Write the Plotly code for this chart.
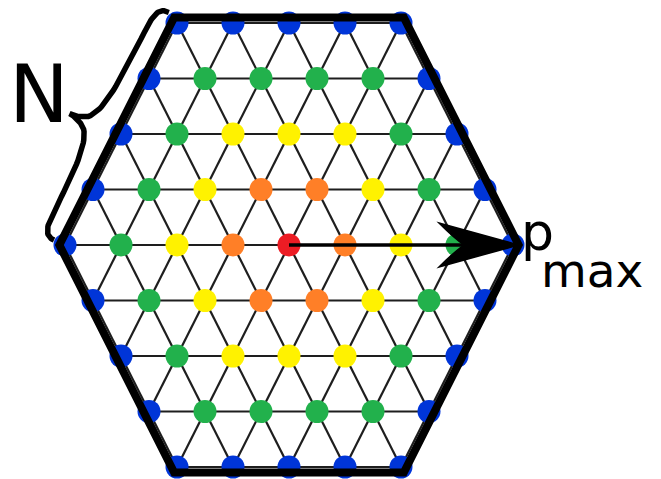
import plotly.graph_objects as go

# ---- data ----
# ring index (hex distance from centre) of every lattice site, row by row (top -> bottom)
row_rings = [
    [4, 4, 4, 4, 4],
    [4, 3, 3, 3, 3, 4],
    [4, 3, 2, 2, 2, 3, 4],
    [4, 3, 2, 1, 1, 2, 3, 4],
    [4, 3, 2, 1, 0, 1, 2, 3, 4],
    [4, 3, 2, 1, 1, 2, 3, 4],
    [4, 3, 2, 2, 2, 3, 4],
    [4, 3, 3, 3, 3, 4],
    [4, 4, 4, 4, 4],
]
ring_colors = ["#ec1c24", "#ff7f27", "#fff200", "#22b14c", "#0035d8"]
hex_side = 4            # N
border_scale = 1.025    # border hexagon slightly larger than the lattice
label_N = "N"
label_p = "p"
label_sub = "max"

# ---- pixel <-> lattice helpers (lattice units on the axes) ----
W, H = 661, 479
OX, OY, SX, SY = 287.0, 243.0, 56.0, 55.5
SHIFT = 6.0   # page offset compensation
def pu(x): return (x - OX) / SX
def pv(y): return (OY - y) / SY

# lattice sites
sites = []
for i, rings in enumerate(row_rings):
    v = hex_side - i
    n = len(rings)
    row = []
    for k, r in enumerate(rings):
        u = -(n - 1) / 2 + k
        row.append((u, v, r))
    sites.append(row)

# bonds
lx, ly = [], []
for i, row in enumerate(sites):
    for a, b in zip(row[:-1], row[1:]):
        lx += [a[0], b[0], None]; ly += [a[1], b[1], None]
    if i + 1 < len(sites):
        for a in row:
            for b in sites[i + 1]:
                if abs(abs(a[0] - b[0]) - 0.5) < 1e-9:
                    lx += [a[0], b[0], None]; ly += [a[1], b[1], None]

fig = go.Figure()
fig.add_trace(go.Scatter(x=lx, y=ly, mode="lines",
                         line=dict(color="#1e1e1e", width=2.2), hoverinfo="skip"))

px_ = [s[0] for row in sites for s in row]
py_ = [s[1] for row in sites for s in row]
pc_ = [ring_colors[s[2]] for row in sites for s in row]
fig.add_trace(go.Scatter(x=px_, y=py_, mode="markers",
                         marker=dict(size=23, color=pc_, line=dict(width=0)),
                         hoverinfo="skip"))

# border hexagon
N = hex_side * border_scale
hx = [-N / 2, N / 2, N, N / 2, -N / 2, -N, -N / 2, N / 2]
hy = [N, N, 0, -N, -N, 0, N, N]
fig.add_trace(go.Scatter(x=hx, y=hy, mode="lines",
                         line=dict(color="black", width=8), hoverinfo="skip"))

# arrow shaft from the centre site towards the right vertex
fig.add_trace(go.Scatter(x=[0, pu(470)], y=[0, 0], mode="lines",
                         line=dict(color="black", width=3.5), hoverinfo="skip"))
def P(x, y): return f"{pu(x):.4f},{pv(y):.4f}"
tipx = OX + N * SX
head = (f"M {P(tipx, 243)} "
        f"L {P(437, 221)} "
        f"Q {P(452, 236)} {P(462, 243)} "
        f"Q {P(452, 250)} {P(437, 265)} Z")
fig.add_shape(type="path", path=head, xref="x", yref="y",
              fillcolor="black", line=dict(color="black", width=1.5), layer="above")

# curly brace along the upper-left edge
A = (OX + hx[0] * SX, OY - hy[0] * SY)      # top-left vertex (px)
B = (OX + hx[5] * SX, OY - hy[5] * SY)      # left vertex (px)
L = ((B[0] - A[0]) ** 2 + (B[1] - A[1]) ** 2) ** 0.5
e = ((B[0] - A[0]) / L, (B[1] - A[1]) / L)
nrm = (e[1], -e[0])
if nrm[0] > 0:
    nrm = (-nrm[0], -nrm[1])

def bez(p0, p1, p2, p3, m=24):
    out = []
    for j in range(m + 1):
        t = j / m
        a = (1 - t) ** 3; b = 3 * (1 - t) ** 2 * t; c = 3 * (1 - t) * t ** 2; d = t ** 3
        out.append((a * p0[0] + b * p1[0] + c * p2[0] + d * p3[0],
                    a * p0[1] + b * p1[1] + c * p2[1] + d * p3[1]))
    return out

sm = 133.0
s0, s1 = -2.0, L - 2.0
loc = []
loc += bez((s0, 7), (s0 - 1, 17), (s0 + 8, 20), (s0 + 24, 20))
loc += bez((s0 + 24, 20), (70, 20), (sm - 18, 19), (sm - 6, 32))[1:]
loc += bez((sm - 6, 32), (sm - 2, 38), (sm, 44), (sm, 50))[1:]
loc += bez((sm, 50), (sm, 44), (sm + 2, 38), (sm + 6, 32))[1:]
loc += bez((sm + 6, 32), (sm + 18, 19), (s1 - 60, 20), (s1 - 24, 20))[1:]
loc += bez((s1 - 24, 20), (s1 - 8, 20), (s1 + 1, 17), (s1, 7))[1:]
bx = [pu(A[0] + s * e[0] + d * nrm[0]) for s, d in loc]
by = [pv(A[1] + s * e[1] + d * nrm[1]) for s, d in loc]
fig.add_trace(go.Scatter(x=bx, y=by, mode="lines",
                         line=dict(color="black", width=5.5), hoverinfo="skip"))

fnt = "DejaVu Sans, Verdana, sans-serif"
fig.add_annotation(x=pu(37), y=pv(92), text=label_N, showarrow=False,
                   xanchor="center", yanchor="middle",
                   font=dict(family=fnt, size=80, color="black"))
fig.add_annotation(x=pu(535), y=pv(230), text=label_p, showarrow=False,
                   xanchor="center", yanchor="middle",
                   font=dict(family=fnt, size=52, color="black"))
fig.add_annotation(x=pu(590), y=pv(268), text=label_sub, showarrow=False,
                   xanchor="center", yanchor="middle",
                   font=dict(family=fnt, size=47, color="black"))

fig.update_layout(
    width=W, height=H, margin=dict(l=0, r=0, t=0, b=0),
    paper_bgcolor="white", plot_bgcolor="white", showlegend=False,
    xaxis=dict(range=[pu(SHIFT), pu(W + SHIFT)], visible=False, fixedrange=True),
    yaxis=dict(range=[pv(H + SHIFT), pv(SHIFT)], visible=False, fixedrange=True),
)
fig.write_html("out.html")
